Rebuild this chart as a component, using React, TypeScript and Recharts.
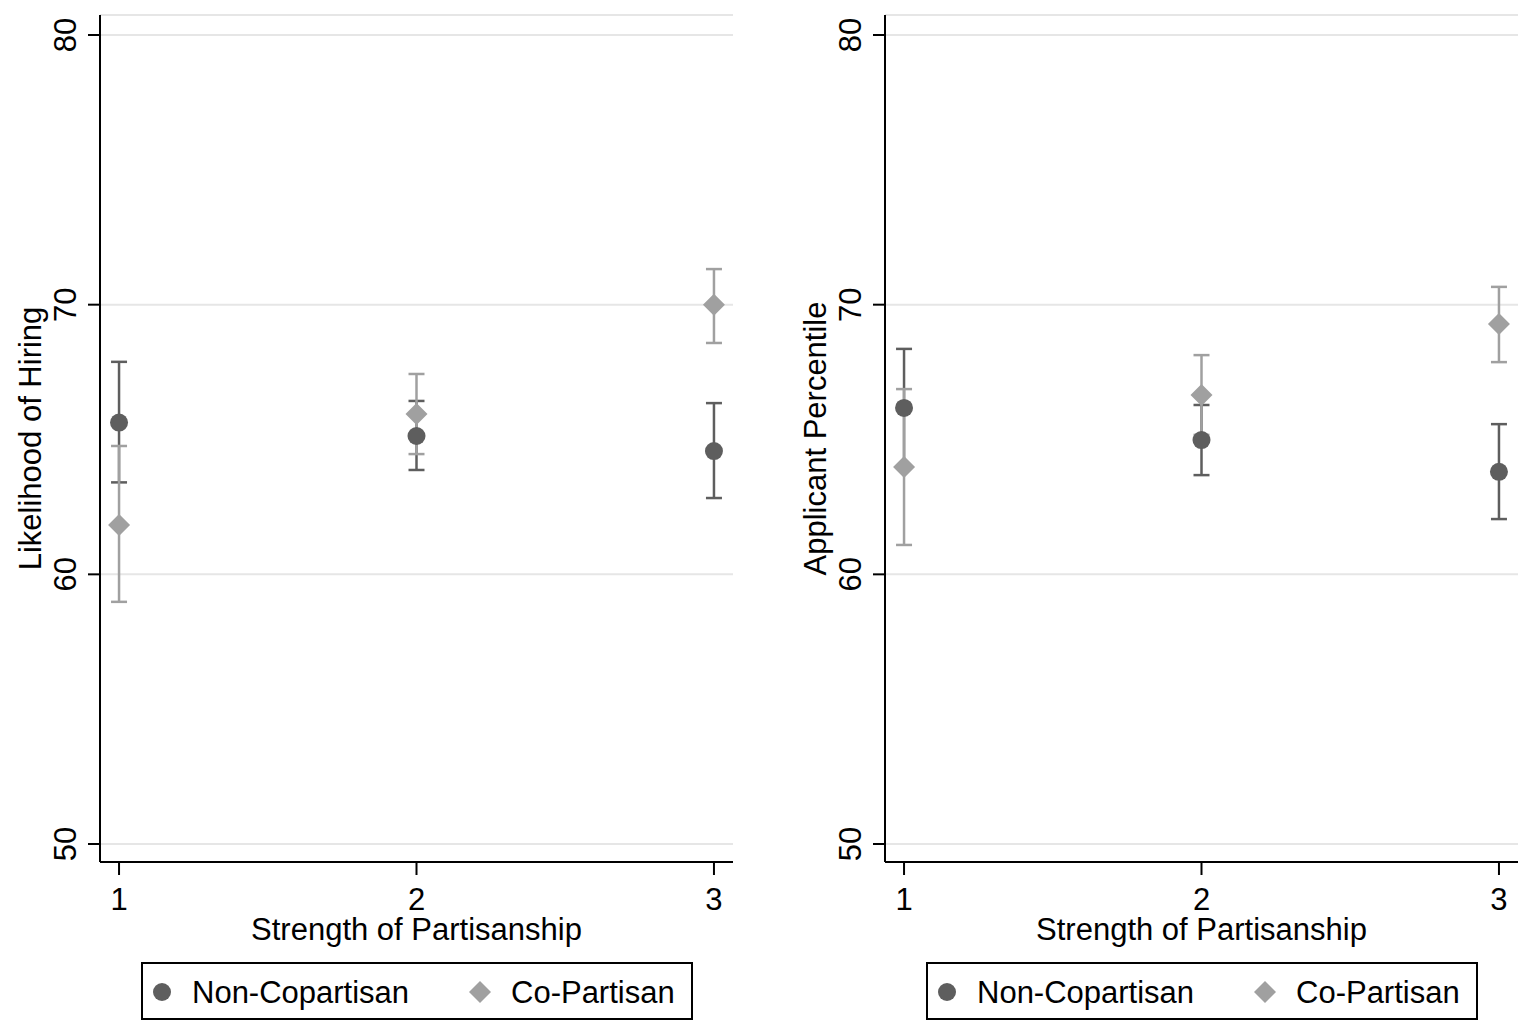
import { ScatterChart, Scatter, XAxis, YAxis, CartesianGrid, ErrorBar, Label } from "recharts";

const FONT = "'Liberation Sans', Arial, sans-serif";
const DARK = "#5e5e5e";
const LIGHT = "#a0a0a0";

const strength = [1, 2, 3];
const yTicks = [50, 60, 70, 80];

// Likelihood of Hiring
const hiringNonEst = [65.63, 65.13, 64.57];
const hiringNonLow = [63.41, 63.87, 62.83];
const hiringNonHigh = [67.88, 66.43, 66.35];
const hiringCoEst = [61.83, 65.95, 70.0];
const hiringCoLow = [58.98, 64.46, 68.58];
const hiringCoHigh = [64.76, 67.43, 71.32];

// Applicant Percentile
const pctNonEst = [66.17, 64.98, 63.8];
const pctNonLow = [63.98, 63.68, 62.05];
const pctNonHigh = [68.36, 66.28, 65.57];
const pctCoEst = [63.98, 66.65, 69.28];
const pctCoLow = [61.09, 65.17, 67.87];
const pctCoHigh = [66.87, 68.13, 70.66];

const buildRows = (est: number[], low: number[], high: number[]) =>
  strength.map((x, i) => ({ x, y: est[i], err: [est[i] - low[i], high[i] - est[i]] }));

const YTick = (props: any) => {
  const { x, y, payload } = props;
  return (
    <text x={x} y={y} transform={`rotate(-90, ${x}, ${y})`} textAnchor="middle"
      fontSize={31} fontFamily={FONT} fill="#000">
      {payload.value}
    </text>
  );
};

const XTick = (props: any) => {
  const { x, y, payload } = props;
  return (
    <text x={x} y={y + 35} textAnchor="middle" fontSize={31} fontFamily={FONT} fill="#000">
      {payload.value}
    </text>
  );
};

const dot = (p: any) => <circle cx={p.cx} cy={p.cy} r={9} fill={DARK} />;
const diamond = (p: any) => (
  <polygon
    points={`${p.cx},${p.cy - 11} ${p.cx + 11},${p.cy} ${p.cx},${p.cy + 11} ${p.cx - 11},${p.cy}`}
    fill={LIGHT}
  />
);
const nothing = () => <g />;

type PanelProps = {
  left: number;
  width: number;
  rightMargin: number;
  title: string;
  nonRows: any[];
  coRows: any[];
};

function Panel({ left, width, rightMargin, title, nonRows, coRows }: PanelProps) {
  return (
    <div style={{ position: "absolute", left, top: 0 }}>
      <ScatterChart width={width} height={1032} margin={{ top: 15, right: rightMargin, left: 0, bottom: 0 }}>
        <CartesianGrid vertical={false} stroke="#e6e6e6" strokeWidth={2} />
        <XAxis
          type="number"
          dataKey="x"
          domain={[0.936, 3.064]}
          ticks={strength}
          allowDataOverflow
          height={170}
          tickSize={13}
          tickMargin={0}
          axisLine={{ stroke: "#000", strokeWidth: 2 }}
          tickLine={{ stroke: "#000", strokeWidth: 2 }}
          tick={<XTick />}
        >
          <Label
            content={(lp: any) => {
              const vb = lp.viewBox || { x: 100, y: 862, width: 633 };
              return (
                <text x={vb.x + vb.width / 2} y={vb.y + 78} textAnchor="middle"
                  fontSize={31} fontFamily={FONT} fill="#000">
                  Strength of Partisanship
                </text>
              );
            }}
          />
        </XAxis>
        <YAxis
          type="number"
          dataKey="y"
          domain={[49.333, 80.742]}
          ticks={yTicks}
          allowDataOverflow
          width={100}
          tickSize={12}
          tickMargin={12}
          axisLine={{ stroke: "#000", strokeWidth: 2 }}
          tickLine={{ stroke: "#000", strokeWidth: 2 }}
          tick={<YTick />}
        >
          <Label
            content={(lp: any) => {
              const vb = lp.viewBox || { x: 0, y: 15, height: 847 };
              const cx = vb.x + 41;
              const cy = vb.y + vb.height / 2;
              return (
                <text x={cx} y={cy} transform={`rotate(-90, ${cx}, ${cy})`} textAnchor="middle"
                  fontSize={31} fontFamily={FONT} fill="#000">
                  {title}
                </text>
              );
            }}
          />
        </YAxis>
        <Scatter data={nonRows} shape={nothing} isAnimationActive={false}>
          <ErrorBar dataKey="err" direction="y" width={8} stroke={DARK} strokeWidth={2.5} isAnimationActive={false} />
        </Scatter>
        <Scatter data={coRows} shape={nothing} isAnimationActive={false}>
          <ErrorBar dataKey="err" direction="y" width={8} stroke={LIGHT} strokeWidth={2.5} isAnimationActive={false} />
        </Scatter>
        <Scatter data={nonRows} shape={dot} isAnimationActive={false} />
        <Scatter data={coRows} shape={diamond} isAnimationActive={false} />
      </ScatterChart>
    </div>
  );
}

function LegendBox({ left }: { left: number }) {
  return (
    <svg style={{ position: "absolute", left, top: 962 }} width={552} height={58}>
      <rect x={1} y={1} width={550} height={56} fill="#fff" stroke="#000" strokeWidth={2} />
      <circle cx={21} cy={30} r={9} fill={DARK} />
      <text x={51} y={41} fontSize={31} fontFamily={FONT} fill="#000">Non-Copartisan</text>
      <polygon points="339,19 350,30 339,41 328,30" fill={LIGHT} />
      <text x={370} y={41} fontSize={31} fontFamily={FONT} fill="#000">Co-Partisan</text>
    </svg>
  );
}

export default function App() {
  return (
    <div style={{ position: "absolute", left: 0, top: 0, width: 1535, height: 1032, background: "#fff", overflow: "hidden" }}>
      <Panel
        left={0}
        width={767}
        rightMargin={34}
        title="Likelihood of Hiring"
        nonRows={buildRows(hiringNonEst, hiringNonLow, hiringNonHigh)}
        coRows={buildRows(hiringCoEst, hiringCoLow, hiringCoHigh)}
      />
      <Panel
        left={785}
        width={750}
        rightMargin={17}
        title="Applicant Percentile"
        nonRows={buildRows(pctNonEst, pctNonLow, pctNonHigh)}
        coRows={buildRows(pctCoEst, pctCoLow, pctCoHigh)}
      />
      <LegendBox left={141} />
      <LegendBox left={926} />
    </div>
  );
}
